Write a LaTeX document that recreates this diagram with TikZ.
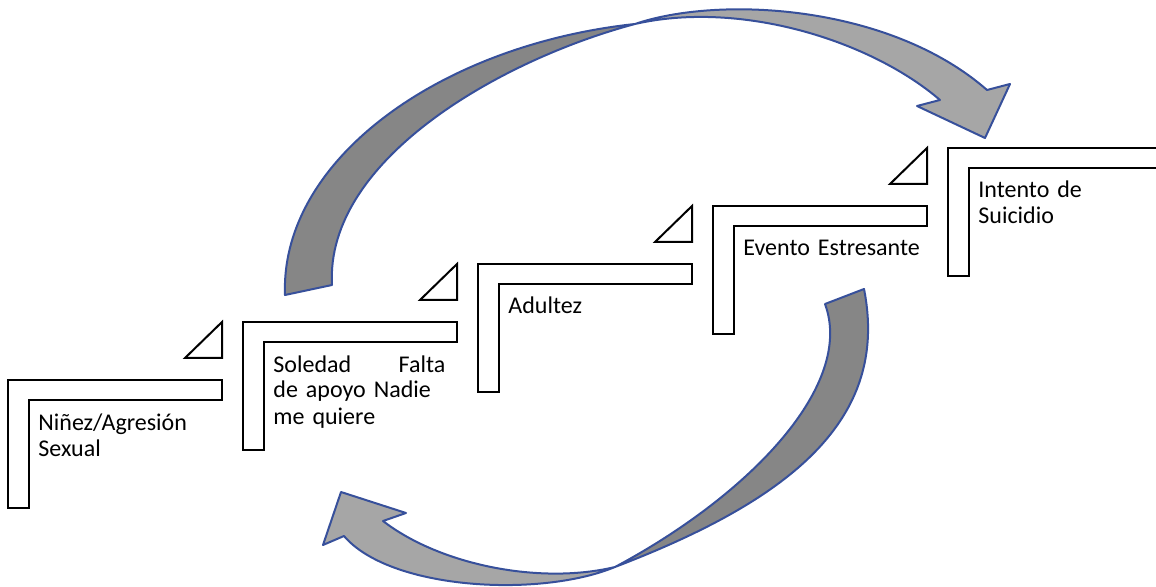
\documentclass[tikz,border=0pt]{standalone}
\usepackage{fontspec}
\setmainfont{Carlito}
\definecolor{bandblue}{RGB}{55,80,155}
\definecolor{backgray}{RGB}{134,134,134}
\definecolor{frontgray}{RGB}{166,166,166}

\begin{document}
\begin{tikzpicture}[x=0.5pt, y=-0.5pt,
    stairbox/.style={draw, line width=1pt, fill=white, line join=miter},
    stairtext/.style={anchor=base west, inner sep=0pt, text width=100pt, align=left,
        font=\fontsize{12pt}{13pt}\selectfont},
    band/.style={draw=bandblue, line width=1pt, line join=round}]
    \useasboundingbox (0,0) rectangle (1156,587);
    \clip (0,0) rectangle (1156,587);

    % Stairs
    \draw[stairbox] (8,380) -- ++(214,0) -- ++(0,20) -- ++(-193,0) -- ++(0,108) -- ++(-21,0) -- cycle;
    \draw[stairbox] (222,322) -- (222,358) -- (185,358) -- cycle;
    \draw[stairbox] (243,322) -- ++(214,0) -- ++(0,20) -- ++(-193,0) -- ++(0,108) -- ++(-21,0) -- cycle;
    \draw[stairbox] (457,264) -- (457,300) -- (420,300) -- cycle;
    \draw[stairbox] (478,264) -- ++(214,0) -- ++(0,20) -- ++(-193,0) -- ++(0,108) -- ++(-21,0) -- cycle;
    \draw[stairbox] (692,206) -- (692,242) -- (655,242) -- cycle;
    \draw[stairbox] (713,206) -- ++(214,0) -- ++(0,20) -- ++(-193,0) -- ++(0,108) -- ++(-21,0) -- cycle;
    \draw[stairbox] (927,148) -- (927,184) -- (890,184) -- cycle;
    \draw[stairbox] (948,148) -- ++(230,0) -- ++(0,20) -- ++(-209,0) -- ++(0,108) -- ++(-21,0) -- cycle;

    % Nodes
    \node[stairtext] (ninez) at (38,430) {Niñez/Agresión\\Sexual};
    \node[stairtext] (soledad) at (273,372) {\makebox[86pt]{Soledad\hfill Falta}\\de apoyo Nadie\\me quiere};
    \node[stairtext] (adultez) at (508,314) {Adultez};
    \node[stairtext] (evento) at (743,256) {Evento Estresante};
    \node[stairtext] (intento) at (978,198) {Intento de\\Suicidio};

    % Arrows
    \filldraw[band, fill=backgray] (285,295) .. controls (280,160) and (440,45) .. (635,24)
        .. controls (500,60) and (325,160) .. (332,285) -- cycle;
    \filldraw[band, fill=frontgray] (635,24) .. controls (720,-5) and (890,5) .. (987,90)
        -- (1010,84) -- (985,138) -- (917,106) -- (940,100)
        .. controls (870,40) and (740,0) .. (635,24) -- cycle;
    \filldraw[band, fill=backgray] (864,289) .. controls (890,420) and (790,500) .. (615,567)
        .. controls (750,495) and (855,385) .. (825,304) -- cycle;
    \filldraw[band, fill=frontgray] (615,567) .. controls (540,585) and (440,565) .. (383,521)
        -- (406,513) -- (341,492) -- (323,545) -- (344,536)
        .. controls (390,590) and (540,598) .. (615,567) -- cycle;
\end{tikzpicture}
\end{document}
